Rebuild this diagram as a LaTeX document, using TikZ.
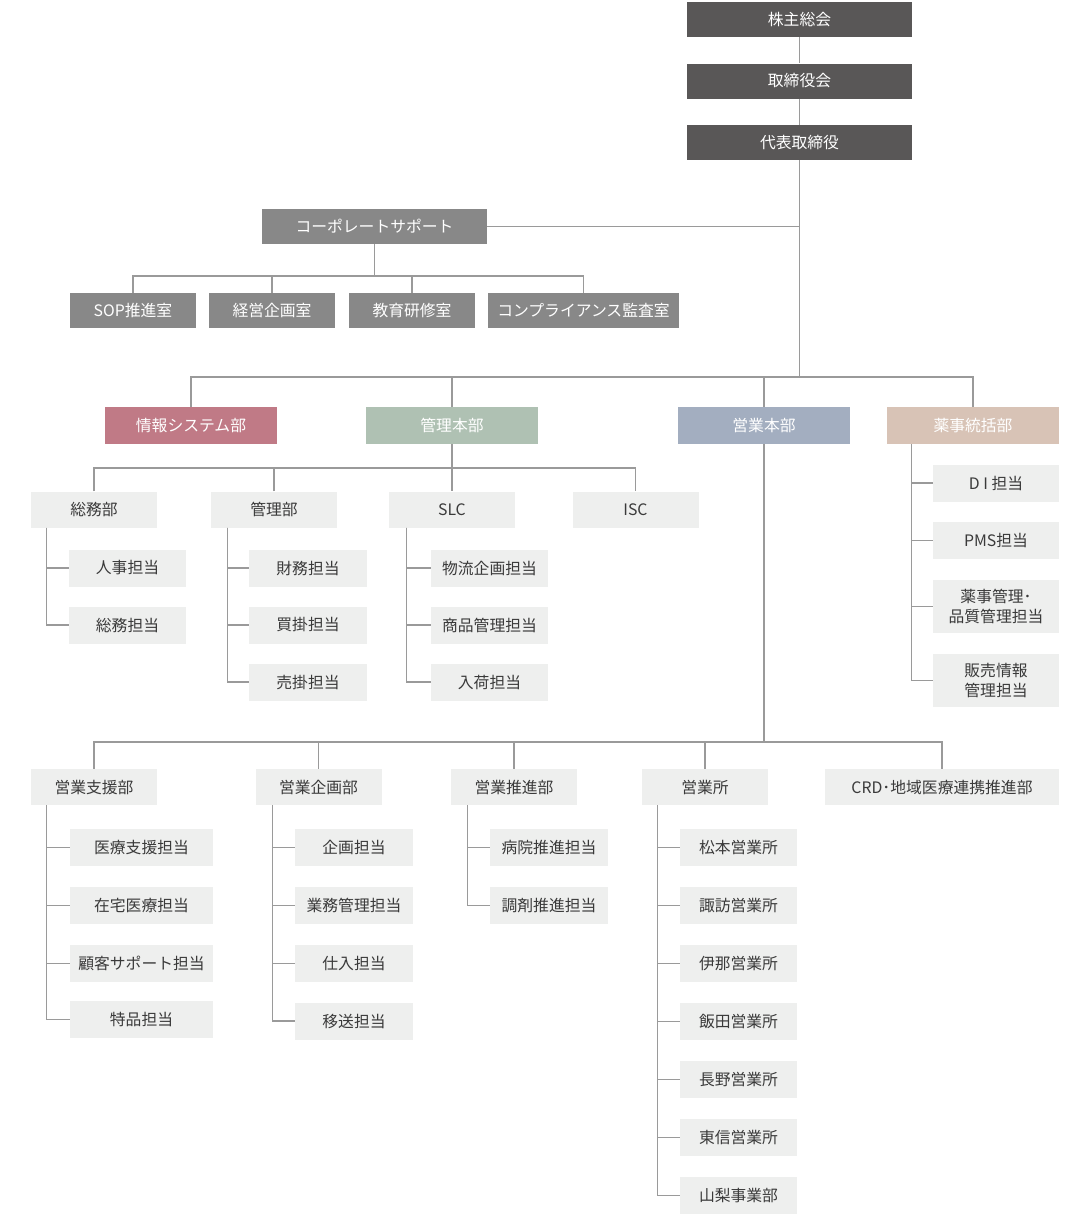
\documentclass[tikz,border=0pt]{standalone}
\usepackage{fontspec}
\newfontfamily\jp{Noto Sans CJK JP}
\definecolor{boardgrey}{HTML}{595757}
\definecolor{corpgrey}{HTML}{888888}
\definecolor{infored}{HTML}{C07A86}
\definecolor{kanrigreen}{HTML}{AFC1B3}
\definecolor{eigyoblue}{HTML}{A3AEC0}
\definecolor{yakubeige}{HTML}{D8C3B6}
\definecolor{unitgrey}{HTML}{EEEFEE}
\definecolor{linegrey}{HTML}{9A9A9A}
\definecolor{textgrey}{HTML}{3A3A3A}
\begin{document}
\begin{tikzpicture}[x=1pt, y=-1pt,
  every node/.style={inner sep=0pt, align=center, font=\jp\fontsize{15.8}{20}\selectfont},
  darkbox/.style={fill=boardgrey, text=white, minimum width=225, minimum height=35},
  corpbox/.style={fill=corpgrey, text=white, minimum width=#1, minimum height=35},
  deptbox/.style={fill=#1, text=white, minimum width=172, minimum height=37},
  unitbox/.style={fill=unitgrey, text=textgrey, minimum width=#1, minimum height=36},
  staffbox/.style={fill=unitgrey, text=textgrey, minimum width=#1, minimum height=37},
  link/.style={draw=linegrey, line width=1.2pt}]

\useasboundingbox (0,0) rectangle (1089,1218);

\node[darkbox] (kabu) at (799.5,19.5) {株主総会};
\node[darkbox] (tori) at (799.5,81) {取締役会};
\node[darkbox] (ceo) at (799.5,142.5) {代表取締役};

\node[corpbox=225] (corp) at (374.5,226.5) {コーポレートサポート};
\node[corpbox=126] (sop) at (133,310.5) {SOP推進室};
\node[corpbox=126] (keiei) at (272,310.5) {経営企画室};
\node[corpbox=126] (kyoiku) at (412,310.5) {教育研修室};
\node[corpbox=191] (comp) at (583.5,310.5) {コンプライアンス監査室};

\node[deptbox=infored] (info) at (191,425.5) {情報システム部};
\node[deptbox=kanrigreen] (kanri) at (452,425.5) {管理本部};
\node[deptbox=eigyoblue] (eigyo) at (764,425.5) {営業本部};
\node[deptbox=yakubeige] (yaku) at (973,425.5) {薬事統括部};

\node[unitbox=126] (somu) at (94,509.5) {総務部};
\node[unitbox=126] (kanrib) at (274,509.5) {管理部};
\node[unitbox=126] (slc) at (452,509.5) {SLC};
\node[unitbox=126] (isc) at (635.5,509.5) {ISC};

\node[staffbox=117] (jinji) at (127.5,568) {人事担当};
\node[staffbox=117] (somut) at (127.5,625) {総務担当};
\node[staffbox=118] (zaimu) at (308,568) {財務担当};
\node[staffbox=118] (kaikake) at (308,625) {買掛担当};
\node[staffbox=118] (urikake) at (308,682) {売掛担当};
\node[staffbox=117] (butsuryu) at (489.5,568) {物流企画担当};
\node[staffbox=117] (shohin) at (489.5,625) {商品管理担当};
\node[staffbox=117] (nyuka) at (489.5,682) {入荷担当};

\node[staffbox=126] (di) at (996,483) {D I 担当};
\node[staffbox=126] (pms) at (996,540.5) {PMS担当};
\node[staffbox=126, minimum height=53] (yakkan) at (996,606.5) {薬事管理･\\品質管理担当};
\node[staffbox=126, minimum height=53] (hanbai) at (996,680.5) {販売情報\\管理担当};

\node[unitbox=126] (shien) at (94,787) {営業支援部};
\node[unitbox=126] (kikaku) at (318.5,787) {営業企画部};
\node[unitbox=126] (suishin) at (514,787) {営業推進部};
\node[unitbox=126] (sho) at (705,787) {営業所};
\node[unitbox=234] (crd) at (942,787) {CRD･地域医療連携推進部};

\node[staffbox=143] (iryo) at (141.5,847.5) {医療支援担当};
\node[staffbox=143] (zaitaku) at (141.5,905.5) {在宅医療担当};
\node[staffbox=143] (kokyaku) at (141.5,963.5) {顧客サポート担当};
\node[staffbox=143] (tokuhin) at (141.5,1019.5) {特品担当};
\node[staffbox=118] (kikakut) at (354,847.5) {企画担当};
\node[staffbox=118] (gyomu) at (354,905.5) {業務管理担当};
\node[staffbox=118] (shiire) at (354,963.5) {仕入担当};
\node[staffbox=118] (iso) at (354,1021) {移送担当};
\node[staffbox=118] (byoin) at (549,847.5) {病院推進担当};
\node[staffbox=118] (chozai) at (549,905.5) {調剤推進担当};
\node[staffbox=117] (matsumoto) at (738.5,847.5) {松本営業所};
\node[staffbox=117] (suwa) at (738.5,905.5) {諏訪営業所};
\node[staffbox=117] (ina) at (738.5,963.5) {伊那営業所};
\node[staffbox=117] (iida) at (738.5,1021.5) {飯田営業所};
\node[staffbox=117] (nagano) at (738.5,1079.5) {長野営業所};
\node[staffbox=117] (toshin) at (738.5,1137.5) {東信営業所};
\node[staffbox=117] (yamanashi) at (738.5,1195.5) {山梨事業部};

\coordinate (bar1) at (375,276);
\coordinate (bar2) at (799.5,377);
\coordinate (bar3) at (452,468);
\coordinate (bar4) at (764,742);

\draw[link] (kabu) -- (tori);
\draw[link] (tori) -- (ceo);
\draw[link] (ceo) -- (bar2);
\draw[link] (corp) -- (corp -| ceo);

\draw[link] (corp) -- (corp |- bar1);
\draw[link] (sop) -- (sop |- bar1) -- (comp |- bar1) -- (comp);
\draw[link] (keiei) -- (keiei |- bar1);
\draw[link] (kyoiku) -- (kyoiku |- bar1);

\draw[link] (info) -- (info |- bar2) -- (yaku |- bar2) -- (yaku);
\draw[link] (kanri) -- (kanri |- bar2);
\draw[link] (eigyo) -- (eigyo |- bar2);

\draw[link] (kanri) -- (slc);
\draw[link] (somu) -- (somu |- bar3) -- (isc |- bar3) -- (isc);
\draw[link] (kanrib) -- (kanrib |- bar3);

\foreach \c in {jinji,somut}
  \draw[link] ([xshift=16]somu.south west) |- (\c);
\foreach \c in {zaimu,kaikake,urikake}
  \draw[link] ([xshift=17]kanrib.south west) |- (\c);
\foreach \c in {butsuryu,shohin,nyuka}
  \draw[link] ([xshift=18]slc.south west) |- (\c);
\foreach \c in {di,pms,yakkan,hanbai}
  \draw[link] ([xshift=25]yaku.south west) |- (\c);

\draw[link] (eigyo) -- (bar4);
\draw[link] (shien) -- (shien |- bar4) -- (crd |- bar4) -- (crd);
\draw[link] (kikaku) -- (kikaku |- bar4);
\draw[link] (suishin) -- (suishin |- bar4);
\draw[link] (sho) -- (sho |- bar4);

\foreach \c in {iryo,zaitaku,kokyaku,tokuhin}
  \draw[link] ([xshift=16]shien.south west) |- (\c);
\foreach \c in {kikakut,gyomu,shiire,iso}
  \draw[link] ([xshift=17]kikaku.south west) |- (\c);
\foreach \c in {byoin,chozai}
  \draw[link] ([xshift=17]suishin.south west) |- (\c);
\foreach \c in {matsumoto,suwa,ina,iida,nagano,toshin,yamanashi}
  \draw[link] ([xshift=16]sho.south west) |- (\c);
\end{tikzpicture}
\end{document}
